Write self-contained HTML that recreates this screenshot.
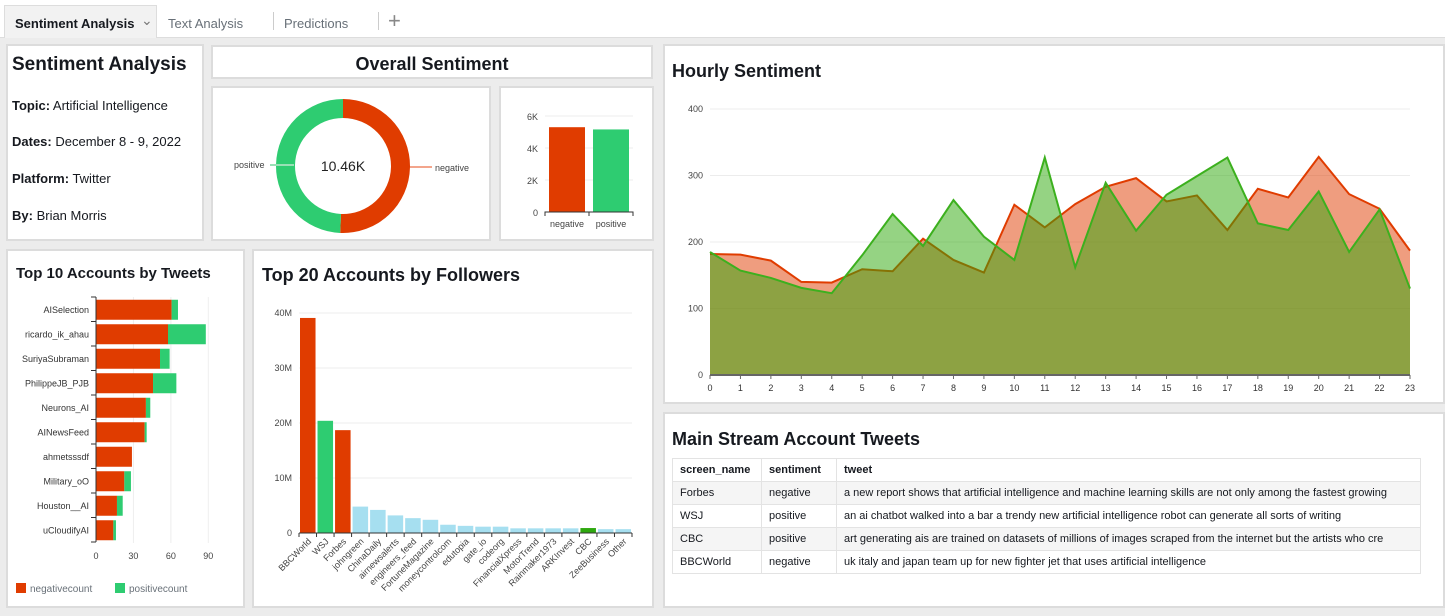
<!DOCTYPE html>
<html><head><meta charset="utf-8"><style>
body{margin:0;width:1445px;height:616px;background:#ececec;font-family:"Liberation Sans",sans-serif;position:relative;overflow:hidden;color:#16191f}
.tabs{position:absolute;left:0;top:0;width:1445px;height:37px;background:#fff;border-bottom:1px solid #ddd}
.tab{position:absolute;top:16px;font-size:13px;color:#687078}
.panel{position:absolute;background:#fff;border:2px solid #dcdcdc;box-sizing:border-box}
.info p{margin:0;position:absolute;left:4px;font-size:13px}
table{border-collapse:collapse;font-size:11px;position:absolute;left:672px;top:458px;width:749px}
td,th{border:1px solid #e3e3e3;height:22px;padding:0 7px;text-align:left;white-space:nowrap;overflow:hidden}
th{font-weight:bold}
tr:nth-child(even) td{background:#f5f5f5}
svg{position:absolute;left:0;top:0}
</style></head><body>
<div class="tabs">
<div style="position:absolute;left:4px;top:5px;width:153px;height:33px;background:#f2f2f2;border:1px solid #ddd;border-bottom:none;box-sizing:border-box"><span style="position:absolute;left:10px;top:10px;font-size:13px;font-weight:bold">Sentiment Analysis</span><span style="position:absolute;left:136px;top:6px;font-size:14px;color:#777">&#8964;</span></div>
<div class="tab" style="left:168px">Text Analysis</div>
<div style="position:absolute;left:273px;top:12px;width:1px;height:18px;background:#ccc"></div>
<div class="tab" style="left:284px">Predictions</div>
<div style="position:absolute;left:378px;top:12px;width:1px;height:18px;background:#ccc"></div>
<div class="tab" style="left:388px;top:8px;font-size:22px;color:#888">+</div>
</div>

<div class="panel info" style="left:6px;top:44px;width:198px;height:197px">
<p style="top:8px;font-size:19px;font-weight:bold">Sentiment Analysis</p>
<p style="top:52px"><b>Topic:</b> Artificial Intelligence</p>
<p style="top:88px"><b>Dates:</b> December 8 - 9, 2022</p>
<p style="top:125px"><b>Platform:</b> Twitter</p>
<p style="top:162px"><b>By:</b> Brian Morris</p>
</div>
<div class="panel" style="left:211px;top:45px;width:442px;height:34px"><div style="text-align:center;font-size:18px;font-weight:bold;margin-top:7px">Overall Sentiment</div></div>
<div class="panel" style="left:211px;top:86px;width:280px;height:155px"></div>
<div class="panel" style="left:499px;top:86px;width:155px;height:155px"></div>
<div class="panel" style="left:6px;top:249px;width:239px;height:359px"><div style="position:absolute;left:8px;top:14px;font-size:15px;font-weight:bold">Top 10 Accounts by Tweets</div></div>
<div class="panel" style="left:252px;top:249px;width:402px;height:359px"><div style="position:absolute;left:8px;top:14px;font-size:18px;font-weight:bold">Top 20 Accounts by Followers</div></div>
<div class="panel" style="left:663px;top:44px;width:782px;height:360px"><div style="position:absolute;left:7px;top:15px;font-size:18px;font-weight:bold">Hourly Sentiment</div></div>
<div class="panel" style="left:663px;top:412px;width:782px;height:196px"><div style="position:absolute;left:7px;top:15px;font-size:18px;font-weight:bold">Main Stream Account Tweets</div></div>

<table>
<tr><th style="width:74px">screen_name</th><th style="width:60px">sentiment</th><th>tweet</th></tr>
<tr><td>Forbes</td><td>negative</td><td>a new report shows that artificial intelligence and machine learning skills are not only among the fastest growing</td></tr>
<tr><td>WSJ</td><td>positive</td><td>an ai chatbot walked into a bar a trendy new artificial intelligence robot can generate all sorts of writing</td></tr>
<tr><td>CBC</td><td>positive</td><td>art generating ais are trained on datasets of millions of images scraped from the internet but the artists who cre</td></tr>
<tr><td>BBCWorld</td><td>negative</td><td>uk italy and japan team up for new fighter jet that uses artificial intelligence</td></tr>
</table>

<svg id="chart" width="1445" height="616" font-family="Liberation Sans, sans-serif"></svg>
<script>
// Overall sentiment
const sentCats=["negative","positive"];
const sentVals=[5300,5160];
// Hourly
const hours=[0,1,2,3,4,5,6,7,8,9,10,11,12,13,14,15,16,17,18,19,20,21,22,23];
const hourNeg=[182,181,172,140,139,159,156,205,173,154,256,222,257,283,296,261,270,218,280,267,328,272,250,187];
const hourPos=[185,157,146,131,123,180,242,194,263,208,173,327,162,289,217,271,299,327,228,218,276,185,249,130];
const hourTicks=[0,100,200,300,400];
// Top 10
const top10Names=["AISelection","ricardo_ik_ahau","SuriyaSubraman","PhilippeJB_PJB","Neurons_AI","AINewsFeed","ahmetsssdf","Military_oO","Houston__AI","uCloudifyAI"];
const top10Neg=[60.6,57.7,51.3,45.7,40,39,28.8,22.7,16.8,13.9];
const top10Pos=[5.1,30.3,7.7,18.7,3.5,1.6,0,5.3,4.6,2.1];
const top10Ticks=[0,30,60,90];
// Top 20
const top20Names=["BBCWorld","WSJ","Forbes","johngreen","ChinaDaily","airnewsalerts","engineers_feed","FortuneMagazine","moneycontrolcom","edutopia","gate_io","codeorg","FinancialXpress","MotorTrend","Rainmaker1973","ARKInvest","CBC","ZeeBusiness","Other"];
const top20Vals=[39.1,20.4,18.7,4.8,4.2,3.2,2.7,2.4,1.5,1.3,1.15,1.15,0.85,0.85,0.85,0.85,0.9,0.7,0.7];
const top20Sent=["negative","positive","negative","","","","","","","","","","","","","","positive2","",""];
const top20Ticks=[0,10,20,30,40];

const svg=document.getElementById('chart');
const NS='http://www.w3.org/2000/svg';
function mk(t,a,parent){const e=document.createElementNS(NS,t);for(const k in a)e.setAttribute(k,a[k]);(parent||svg).appendChild(e);return e;}
function txt(x,y,s,a){const e=mk('text',Object.assign({x:x,y:y},a||{}));e.textContent=s;return e;}
const RED='#e03c00',GRN='#2ecc71';

// Donut
(function(){
 const cx=343,cy=166,R=67,r=48;const tot=sentVals[0]+sentVals[1];
 let a0=-Math.PI/2;
 sentVals.forEach((v,i)=>{
  const a1=a0+v/tot*2*Math.PI;const lg=(a1-a0)>Math.PI?1:0;
  const p=`M${cx+R*Math.cos(a0)},${cy+R*Math.sin(a0)} A${R},${R} 0 ${lg} 1 ${cx+R*Math.cos(a1)},${cy+R*Math.sin(a1)} L${cx+r*Math.cos(a1)},${cy+r*Math.sin(a1)} A${r},${r} 0 ${lg} 0 ${cx+r*Math.cos(a0)},${cy+r*Math.sin(a0)}Z`;
  const s=mk('path',{d:p,fill:i?GRN:RED});
  
  
  a0=a1;
 });
 mk('line',{x1:410,y1:167,x2:432,y2:167,stroke:'#f3a58c','stroke-width':2});
 mk('line',{x1:270,y1:165,x2:294,y2:165,stroke:'#98e0b5','stroke-width':2});
 txt(435,171,'negative',{'font-size':9,fill:'#444'});
 txt(234,168,'positive',{'font-size':9,fill:'#444'});
 const c=txt(cx,171,(tot/1000).toFixed(2)+'K',{'font-size':14,'text-anchor':'middle',fill:'#222'});
 
 
})();

// small bar
(function(){
 const y0=212,yTop=116,max=6000,x0=545,w=88;
 const y=v=>y0-(v/max)*(y0-yTop);
 [0,2000,4000,6000].forEach(t=>{ if(t) mk('line',{x1:x0,x2:x0+w,y1:y(t),y2:y(t),stroke:'#eee'}); txt(538,y(t)+4,t?t/1000+'K':'0',{'font-size':9,'text-anchor':'end',fill:'#444'});});
 const bw=w/2;
 sentVals.forEach((v,i)=>{const b=mk('rect',{x:x0+i*bw+4,y:y(v),width:bw-8,height:y0-y(v),fill:i?GRN:RED});
  
  
  txt(x0+i*bw+bw/2,227,sentCats[i],{'font-size':9,'text-anchor':'middle',fill:'#444'});});
 mk('path',{d:`M${x0},${y0+4}V${y0}H${x0+w}V${y0+4}M${x0+bw},${y0}V${y0+4}`,stroke:'#333',fill:'none'});
})();

// Hourly
(function(){
 const X0=710,X1=1410,Y0=375,Ymax=400,YT=109;
 const x=h=>X0+h/23*(X1-X0),y=v=>Y0-v/Ymax*(Y0-YT);
 hourTicks.forEach(t=>{mk('line',{x1:X0,x2:X1,y1:y(t),y2:y(t),stroke:'#ececec'});txt(703,y(t)+3,t,{'font-size':9,'text-anchor':'end',fill:'#444'});});
 function area(vals,fill,line,nm){
  let d=`M${x(0)},${Y0}`;vals.forEach((v,i)=>d+=`L${x(hours[i])},${y(v)}`);d+=`L${x(23)},${Y0}Z`;
  const a=mk('path',{d:d,fill:fill});
  
  
  let l='';vals.forEach((v,i)=>l+=(i?'L':'M')+x(hours[i])+','+y(v));
  const ln=mk('path',{d:l,fill:'none',stroke:line,'stroke-width':2});
  
  
 }
 area(hourNeg,'rgba(224,60,0,0.5)','#e03c00','negative');
 area(hourPos,'rgba(43,167,8,0.5)','#3cb01e','positive');
 mk('line',{x1:X0,x2:X1,y1:Y0,y2:Y0,stroke:'#666','stroke-width':2});
 hours.forEach(h=>{mk('line',{x1:x(h),x2:x(h),y1:Y0,y2:Y0+4,stroke:'#666'});txt(x(h),391,h,{'font-size':9,'text-anchor':'middle',fill:'#333'});});
})();

// Top 10
(function(){
 const X0=96,max=90,W=112.3,top=297,step=24.5,bh=20;
 const x=v=>X0+v/max*W;
 top10Ticks.forEach(t=>{if(t)mk('line',{x1:x(t),x2:x(t),y1:top,y2:543,stroke:'#eee'});txt(x(t),559,t,{'font-size':9,'text-anchor':'middle',fill:'#444'});});
 top10Names.forEach((n,i)=>{
  const cy=top+step*i+step/2+0.5;
  const a=mk('rect',{x:X0,y:cy-bh/2,width:x(top10Neg[i])-X0,height:bh,fill:RED});
  
  
  const b=mk('rect',{x:x(top10Neg[i]),y:cy-bh/2,width:x(top10Neg[i]+top10Pos[i])-x(top10Neg[i]),height:bh,fill:GRN});
  
  
  txt(89,cy+3,n,{'font-size':9,'text-anchor':'end',fill:'#333'});
  mk('line',{x1:91,x2:96,y1:top+step*i,y2:top+step*i,stroke:'#333'});
 });
 mk('line',{x1:91,x2:96,y1:top+step*10,y2:top+step*10,stroke:'#333'});
 mk('line',{x1:96,x2:96,y1:top,y2:top+step*10,stroke:'#333'});
 mk('rect',{x:16,y:583,width:10,height:10,fill:RED});txt(30,592,'negativecount',{'font-size':10,fill:'#687078'});
 mk('rect',{x:115,y:583,width:10,height:10,fill:GRN});txt(129,592,'positivecount',{'font-size':10,fill:'#687078'});
})();

// Top 20
(function(){
 const X0=299,X1=632,Y0=533,max=40,YT=313;
 const n=top20Names.length,bw=(X1-X0)/n;
 const y=v=>Y0-v/max*(Y0-YT);
 top20Ticks.forEach(t=>{mk('line',{x1:X0,x2:X1,y1:y(t),y2:y(t),stroke:'#eee'});txt(292,y(t)+3,t?t+'M':'0',{'font-size':9,'text-anchor':'end',fill:'#444'});});
 top20Names.forEach((nm,i)=>{
  const s=top20Sent[i];const c=s==='negative'?RED:s==='positive'?GRN:s==='positive2'?'#2ea80f':'#a6dff0';
  const b=mk('rect',{x:X0+i*bw+1,y:y(top20Vals[i]),width:bw-2,height:Y0-y(top20Vals[i]),fill:c});
  
  
  const cx=X0+i*bw+bw/2+4;
  txt(cx,542,nm,{'font-size':9,'text-anchor':'end',fill:'#444',transform:`rotate(-45 ${cx} 542)`});
  mk('line',{x1:X0+i*bw,x2:X0+i*bw,y1:Y0,y2:Y0+4,stroke:'#333'});
 });
 mk('line',{x1:X0,x2:X1,y1:Y0,y2:Y0,stroke:'#333'});
 mk('line',{x1:X1,x2:X1,y1:Y0,y2:Y0+4,stroke:'#333'});
})();
</script>
</body></html>
